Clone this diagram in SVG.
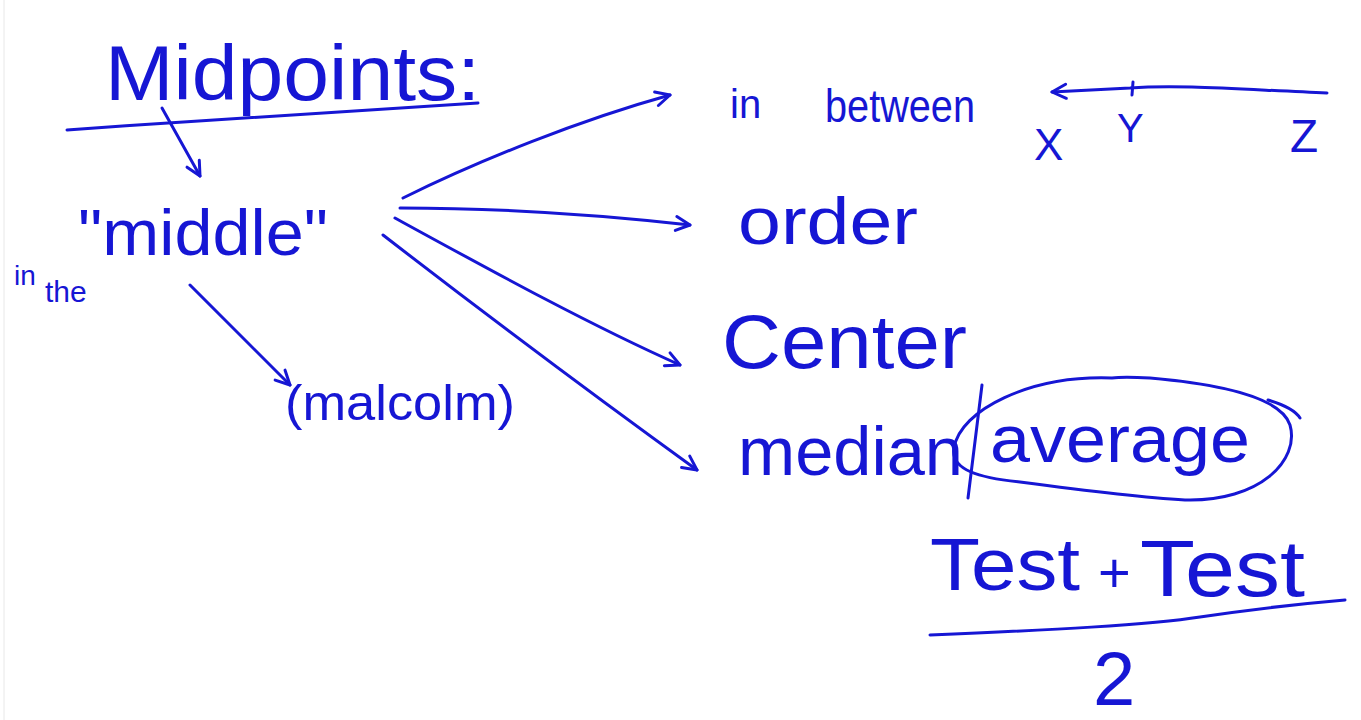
<svg xmlns="http://www.w3.org/2000/svg" width="1361" height="720" viewBox="0 0 1361 720">
<style>
.t{font-family:"Liberation Sans","DejaVu Sans",sans-serif;fill:#1616d4;}
.s{fill:none;stroke:#1616d4;stroke-width:3;stroke-linecap:round;stroke-linejoin:round;}
</style>
<defs>
<marker id="ah" viewBox="0 0 20 20" refX="18" refY="10" markerWidth="20" markerHeight="20" markerUnits="userSpaceOnUse" orient="auto">
<path d="M4,3 L18,10 L4,17" fill="none" stroke="#1616d4" stroke-width="3" stroke-linecap="round" stroke-linejoin="round"/>
</marker>
</defs>
<rect width="1361" height="720" fill="#ffffff"/>
<line x1="4" y1="0" x2="4" y2="720" stroke="#e8e8e8" stroke-width="1"/>

<g id="title">
<text class="t" x="105" y="100" font-size="78" textLength="375" lengthAdjust="spacingAndGlyphs">Midpoints:</text>
<path class="s" d="M67,130 C200,120 330,112 478,103"/>
</g>

<g id="middle">
<text class="t" x="78" y="255" font-size="64" textLength="250" lengthAdjust="spacingAndGlyphs">"middle"</text>
<text class="t" x="14" y="285" font-size="28">in</text>
<text class="t" x="45" y="302" font-size="30">the</text>
</g>

<g id="malcolm">
<text class="t" x="285" y="420" font-size="50" textLength="230" lengthAdjust="spacingAndGlyphs">(malcolm)</text>
</g>

<g id="in-between">
<text class="t" x="730" y="118" font-size="40">in</text>
<text class="t" x="825" y="122" font-size="46" textLength="150" lengthAdjust="spacingAndGlyphs">between</text>
<path class="s" d="M1327,93 C1250,90 1180,84 1130,88 L1052,92" marker-end="url(#ah)"/>
<path class="s" d="M1133,82 L1132,95"/>
<text class="t" x="1034" y="160" font-size="44">X</text>
<text class="t" x="1117" y="142" font-size="40">Y</text>
<text class="t" x="1290" y="152" font-size="46">Z</text>
</g>

<g id="order">
<text class="t" x="738" y="244" font-size="66" textLength="180" lengthAdjust="spacingAndGlyphs">order</text>
</g>

<g id="center">
<text class="t" x="722" y="368" font-size="76" textLength="245" lengthAdjust="spacingAndGlyphs">Center</text>
</g>

<g id="median-average">
<text class="t" x="738" y="475" font-size="68" textLength="225" lengthAdjust="spacingAndGlyphs">median</text>
<path class="s" d="M982,385 L968,498"/>
<text class="t" x="990" y="462" font-size="66" textLength="260" lengthAdjust="spacingAndGlyphs">average</text>
<path class="s" d="M1112,378 C1030,375 960,410 954,448 C950,470 980,478 1020,482 C1080,490 1150,498 1185,500 C1260,502 1300,460 1290,425 C1282,400 1230,385 1150,378 C1130,377 1120,377 1112,378 Z"/>
<path class="s" d="M1268,400 C1285,405 1295,410 1300,418"/>
</g>

<g id="formula">
<text class="t" x="930" y="590" font-size="74" textLength="150" lengthAdjust="spacingAndGlyphs">Test</text>
<text class="t" x="1098" y="592" font-size="56">+</text>
<text class="t" x="1140" y="596" font-size="80" textLength="165" lengthAdjust="spacingAndGlyphs">Test</text>
<path class="s" d="M930,635 C1050,630 1150,625 1200,617 C1260,608 1310,603 1345,600"/>
<text class="t" x="1093" y="705" font-size="76">2</text>
</g>

<g id="connectors">
<path class="s" d="M162,108 L200,176" marker-end="url(#ah)"/>
<path class="s" d="M190,285 C220,315 255,350 290,385" marker-end="url(#ah)"/>
<path class="s" d="M403,198 C480,160 580,120 670,95" marker-end="url(#ah)"/>
<path class="s" d="M400,208 C500,208 600,215 690,225" marker-end="url(#ah)"/>
<path class="s" d="M395,218 C490,270 590,325 680,365" marker-end="url(#ah)"/>
<path class="s" d="M383,235 C480,310 600,400 697,470" marker-end="url(#ah)"/>
</g>
</svg>
